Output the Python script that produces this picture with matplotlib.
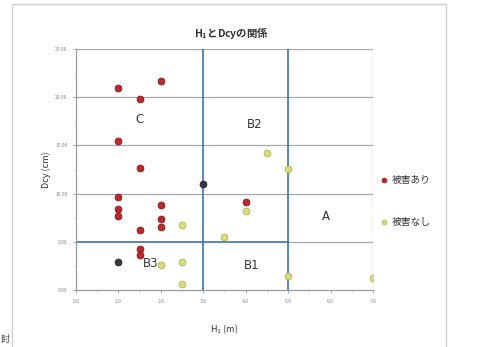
import matplotlib
matplotlib.use("Agg")
import matplotlib.pyplot as plt
from matplotlib.patches import Rectangle
from matplotlib.ticker import MultipleLocator, FormatStrFormatter

plt.rcParams['font.family'] = ['Noto Sans CJK JP', 'DejaVu Sans']

# 被害あり (damaged)
dmg_h = [1.0, 2.0, 1.5, 1.0, 1.5, 1.0, 1.0, 1.0, 1.5, 1.5, 1.5, 2.0, 2.0, 2.0, 4.0]
dmg_d = [21.0, 21.7, 19.8, 15.5, 12.7, 9.6, 8.45, 7.7, 6.2, 4.3, 3.6, 8.8, 7.4, 6.5, 9.1]
# 被害あり points drawn darker
dmg_dark_h = [3.0, 1.0]
dmg_dark_d = [11.0, 2.9]

# 被害なし (no damage)
ok_h = [4.5, 5.0, 4.0, 2.5, 3.5, 2.5, 2.0, 2.5, 5.0, 7.0]
ok_d = [14.2, 12.6, 8.2, 6.7, 5.5, 2.9, 2.6, 0.6, 1.45, 1.2]

# zone boundaries
h_bounds = [3.0, 5.0]
d_bound = 5.0

zones = ["C", "B2", "A", "B1", "B3"]
zone_h = [1.5, 4.2, 5.9, 4.15, 1.75]
zone_d = [17.7, 17.2, 7.6, 2.5, 2.8]

legend_labels = ["被害あり", "被害なし"]

fig = plt.figure(figsize=(4.81, 3.47), dpi=100)
fig.patch.set_facecolor("white")

# chart area frame
fig.patches.append(Rectangle((12 / 481, -0.01), (446 - 12) / 481, 1 - 4 / 347 + 0.01,
                             transform=fig.transFigure, fill=False,
                             edgecolor="#cfcfcf", linewidth=1.0))

ax = fig.add_axes([76 / 481, 1 - 290 / 347, (373 - 76) / 481, (290 - 49) / 347])
ax.set_xlim(0, 7)
ax.set_ylim(0, 25)

grid_c = "#a8a8a8"
blue = "#3a74a8"
for y in [10, 15, 20, 25]:
    ax.plot([0, 7], [y, y], color=grid_c, lw=0.9, zorder=1)
ax.plot([h_bounds[1], 7], [d_bound, d_bound], color=grid_c, lw=0.9, zorder=1)
ax.plot([0, h_bounds[1]], [d_bound, d_bound], color=blue, lw=1.2, zorder=2)
for x in h_bounds:
    ax.plot([x, x], [0, 25], color=blue, lw=1.2, zorder=2)
ax.plot([7, 7], [0, 25], color="#c0c0c0", lw=0.9, zorder=1)

for s in ["top", "right"]:
    ax.spines[s].set_visible(False)
for s in ["left", "bottom"]:
    ax.spines[s].set_color("#9a9a9a")
    ax.spines[s].set_linewidth(0.9)

ax.scatter(dmg_h, dmg_d, s=24, color="#c0282c", edgecolor="#7a1a1e", linewidth=0.6, zorder=4)
ax.scatter(dmg_dark_h, dmg_dark_d, s=24, color="#3a3440", edgecolor="#2a2630", linewidth=0.6, zorder=4)
ax.scatter(ok_h, ok_d, s=24, color="#dadc78", edgecolor="#aab45a", linewidth=0.6, zorder=3)

for t, x, y in zip(zones, zone_h, zone_d):
    ax.text(x, y, t, fontsize=8.5, color="#333333", ha="center", va="center",
            family=["DejaVu Sans"], zorder=5)

ax.xaxis.set_major_locator(MultipleLocator(1))
ax.xaxis.set_minor_locator(MultipleLocator(0.5))
ax.yaxis.set_major_locator(MultipleLocator(5))
ax.yaxis.set_minor_locator(MultipleLocator(2.5))
ax.xaxis.set_major_formatter(FormatStrFormatter("%.1f"))
ax.yaxis.set_major_formatter(FormatStrFormatter("%.2f"))
ax.tick_params(axis="both", which="major", labelsize=3.6, labelcolor="#8a8a8a",
               color="#9a9a9a", length=2.5, width=0.6)
ax.tick_params(axis="both", which="minor", color="#c0c0c0", length=1.5, width=0.5)
ax.tick_params(axis="x", pad=4)

ax.set_xlabel("H$_1$ (m)", fontsize=6.5, color="#333333", labelpad=13)
ax.set_ylabel("Dcy (cm)", fontsize=6.5, color="#333333", labelpad=3)

fig.text(232 / 481, 1 - 33 / 347, "H$_{\\mathregular{1}}$とDcyの関係", fontsize=7.5,
         fontweight="bold", color="#333333", ha="center", va="center")

# legend
leg_y = [180, 222]
leg_c = ["#c0282c", "#dadc78"]
leg_e = ["#7a1a1e", "#aab45a"]
for lab, yy, c, e in zip(legend_labels, leg_y, leg_c, leg_e):
    fig.add_artist(plt.Line2D([384 / 481], [1 - yy / 347], marker="o", markersize=3.5,
                              color=c, markeredgecolor=e, markeredgewidth=0.5,
                              transform=fig.transFigure))
    fig.text(392 / 481, 1 - yy / 347, lab, fontsize=7, color="#333333",
             ha="left", va="center")

fig.text(1 / 481, 1 - 339 / 347, "討", fontsize=6.5, color="#333333",
         ha="left", va="center")

fig.savefig("out.png", dpi=100, facecolor="white")
